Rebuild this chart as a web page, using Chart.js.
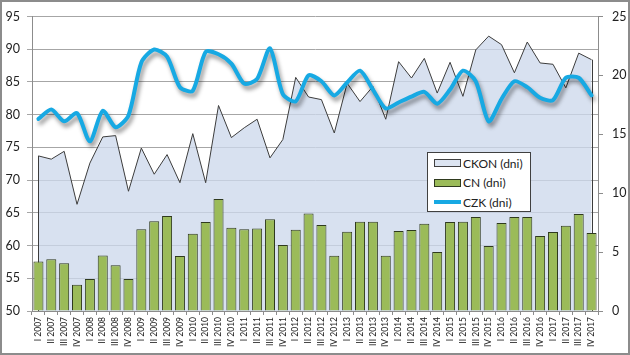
<!DOCTYPE html>
<html><head><meta charset="utf-8">
<script src="https://cdn.jsdelivr.net/npm/chart.js@4"></script>
<style>
html,body{margin:0;padding:0;background:#fff}
#wrap{position:relative;width:630px;height:355px;overflow:hidden}
canvas{position:absolute;left:0;top:0}
#legend{position:absolute;left:427px;top:152px;width:104px;height:60px;border:1px solid #404040;background:#fff;font-family:Lato,sans-serif;font-size:12px;color:#222;box-sizing:border-box}
.item{position:absolute;left:6px;height:20px;display:flex;align-items:center;white-space:nowrap}
.sw{width:27px;margin-right:2px;box-sizing:border-box}
</style></head>
<body>
<div id="wrap">
<canvas id="c" width="630" height="355"></canvas>
<div id="legend"></div>
</div>
<script>
const labels = ['I 2007','II 2007','III 2007','IV 2007','I 2008','II 2008','III 2008','IV 2008',
'I 2009','II 2009','III 2009','IV 2009','I 2010','II 2010','III 2010','IV 2010',
'I 2011','II 2011','III 2011','IV 2011','I 2012','II 2012','III 2012','IV 2012',
'I 2013','II 2013','III 2013','IV 2013','I 2014','II 2014','III 2014','IV 2014',
'I 2015','II 2015','III 2015','IV 2015','I 2016','II 2016','III 2016','IV 2016',
'I 2017','II 2017','III 2017','IV 2017'];

const ckon = [73.7,73.2,74.4,66.3,72.6,76.6,76.8,68.3,74.9,70.9,73.9,69.6,77.1,69.6,81.4,76.5,78.0,79.3,73.4,76.2,85.7,82.7,82.3,77.2,84.8,82.0,84.3,79.3,88.1,85.6,88.6,83.3,88.0,82.8,89.9,92.0,90.7,86.4,91.1,87.9,87.7,84.1,89.4,88.4];
const cn = [4.2,4.39,4.06,2.22,2.72,4.72,3.89,2.72,6.94,7.61,8.06,4.67,6.56,7.56,9.5,7.06,6.94,7.0,7.78,5.61,6.89,8.28,7.30,4.68,6.73,7.58,7.58,4.68,6.79,6.87,7.41,5.01,7.55,7.58,7.97,5.52,7.46,7.97,7.97,6.37,6.70,7.24,8.23,6.62];
const czk = [16.3,17.1,16.1,16.8,14.4,17.0,15.6,16.6,21.1,22.2,21.6,19.0,18.7,22.0,21.8,21.0,19.3,19.7,22.3,18.4,17.8,20.0,19.5,18.3,19.4,20.4,18.8,17.2,17.7,18.2,18.6,17.6,18.8,20.4,19.5,16.1,18.0,19.5,19.0,18.1,17.9,19.8,19.8,18.3];

const seriesNames = ['CKON (dni)','CN (dni)','CZK (dni)'];

const C_AREA = 'rgba(205,216,236,0.78)';
const C_AREA_LINE = '#3c3c3c';
const C_BAR = '#9BBB59';
const C_BAR_LINE = '#2f3a1e';
const C_LINE = '#17A9E3';
const FONT = 'Lato, "Open Sans", sans-serif';

const fx = {
  id:'fx',
  beforeDatasetDraw(chart,args){
    if(chart.data.datasets[args.index].label===seriesNames[2]){
      const c=chart.ctx; c.save();
      c.shadowColor='rgba(0,0,0,0.42)'; c.shadowBlur=4; c.shadowOffsetX=2; c.shadowOffsetY=4;
    }
  },
  afterDatasetDraw(chart,args){
    const ds=chart.data.datasets[args.index];
    if(ds.label===seriesNames[2]){ chart.ctx.restore(); }
    if(ds.label===seriesNames[0]){
      const pts=args.meta.data, ys=chart.scales.y, c=chart.ctx;
      const b=ys.getPixelForValue(ys.min);
      c.save(); c.strokeStyle=C_AREA_LINE; c.lineWidth=1;
      c.beginPath();
      c.moveTo(Math.round(pts[0].x)+0.5,pts[0].y); c.lineTo(Math.round(pts[0].x)+0.5,b);
      const l=pts[pts.length-1];
      c.moveTo(Math.round(l.x)+0.5,l.y); c.lineTo(Math.round(l.x)+0.5,b);
      c.stroke(); c.restore();
    }
  },
  afterDraw(chart){
    const c=chart.ctx; c.save(); c.strokeStyle='#8c8c8c'; c.lineWidth=2;
    c.strokeRect(1,1,chart.width-2,chart.height-2); c.restore();
  }
};

new Chart(document.getElementById('c'),{
  type:'bar',
  data:{
    labels:labels,
    datasets:[
      {type:'line',label:seriesNames[2],data:czk,yAxisID:'y1',borderColor:C_LINE,borderWidth:4,pointRadius:0,tension:0.25,fill:false,order:0,borderCapStyle:'round',borderJoinStyle:'round'},
      {type:'bar',label:seriesNames[1],data:cn,yAxisID:'y1',backgroundColor:C_BAR,borderColor:C_BAR_LINE,borderWidth:1,barPercentage:0.78,categoryPercentage:1,order:1},
      {type:'line',label:seriesNames[0],data:ckon,yAxisID:'y',borderColor:C_AREA_LINE,borderWidth:1,backgroundColor:C_AREA,fill:'start',pointRadius:0,tension:0,order:2}
    ]
  },
  options:{
    responsive:false,
    animation:false,
    layout:{padding:{top:15,left:0,right:0,bottom:0}},
    plugins:{legend:{display:false},tooltip:{enabled:false}},
    scales:{
      x:{offset:true,
        grid:{display:true,drawOnChartArea:false,drawTicks:true,tickLength:4,offset:true,color:'#8c8c8c'},
        border:{color:'#8c8c8c'},
        ticks:{minRotation:90,maxRotation:90,autoSkip:false,font:{family:FONT,size:8.5},color:'#222',padding:2},
        afterFit(s){s.height=44;}
      },
      y:{position:'left',min:50,max:95,
        ticks:{stepSize:5,font:{family:FONT,size:12.5},color:'#222',padding:7},
        grid:{color:'#a6a6a6',tickLength:5},
        border:{color:'#8c8c8c'},
        afterFit(s){s.width=32;}
      },
      y1:{position:'right',min:0,max:25,
        ticks:{stepSize:5,font:{family:FONT,size:12.5},color:'#222',padding:9},
        grid:{drawOnChartArea:false,tickLength:5,color:'#8c8c8c'},
        border:{color:'#8c8c8c'},
        afterFit(s){s.width=32;}
      }
    }
  },
  plugins:[fx]
});

const lg=document.getElementById('legend');
const sw=[
  'height:8px;background:#dce4f1;border:1px solid #404040',
  'height:8px;background:'+C_BAR+';border:1px solid '+C_BAR_LINE,
  'height:4px;background:'+C_LINE
];
seriesNames.forEach((n,i)=>{
  const d=document.createElement('div'); d.className='item'; d.style.top=(i*19.5)+'px';
  const s=document.createElement('div'); s.className='sw'; s.style.cssText+=';'+sw[i];
  const t=document.createElement('span'); t.textContent=n;
  d.appendChild(s); d.appendChild(t); lg.appendChild(d);
});
</script>
</body></html>
